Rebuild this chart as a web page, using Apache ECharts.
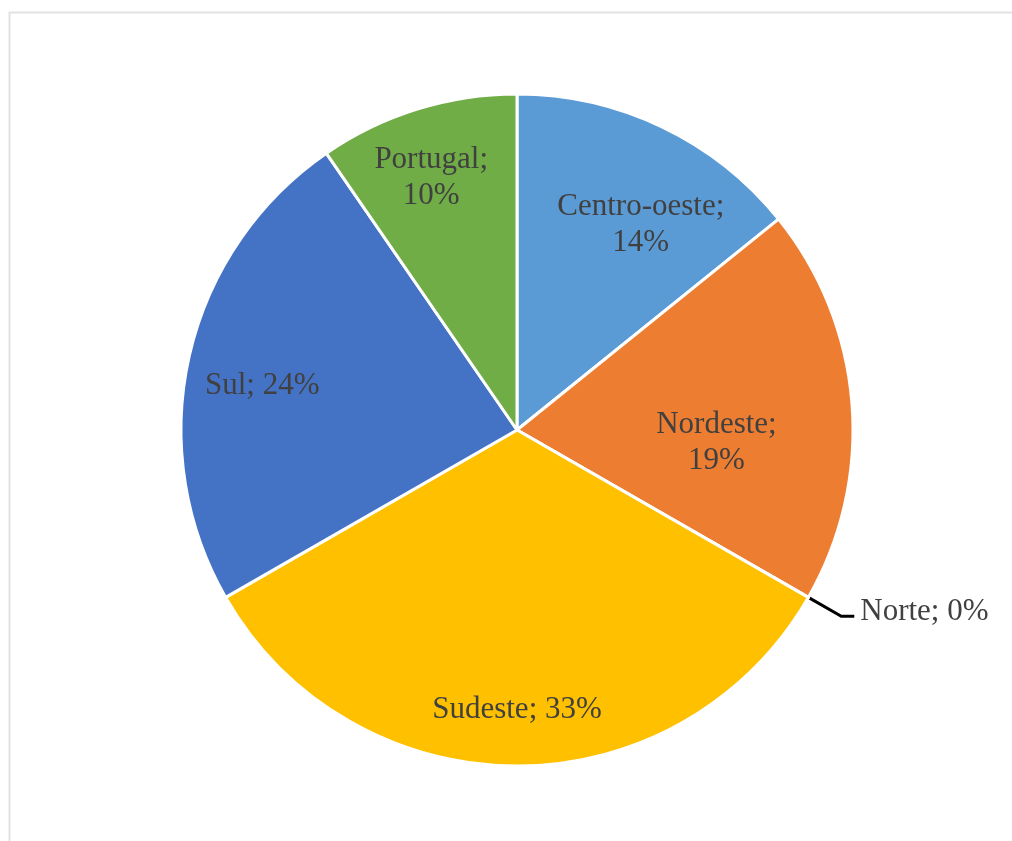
<!DOCTYPE html>
<html>
<head>
<meta charset="utf-8">
<script src="https://cdn.jsdelivr.net/npm/echarts@6/dist/echarts.min.js"></script>
<style>
    html, body { margin: 0; padding: 0; background: #ffffff; }
    #chart { width: 1012px; height: 841px; }
</style>
</head>
<body>
<div id="chart"></div>
<script>
    // regions and their share (%)
    var regions = ['Centro-oeste', 'Nordeste', 'Norte', 'Sudeste', 'Sul', 'Portugal'];
    var shares = [14.2, 19.1, 0, 33.4, 23.7, 9.6];
    var shareLabels = ['14%', '19%', '0%', '33%', '24%', '10%'];

    var colors = ['#5B9BD5', '#ED7D31', '#A5A5A5', '#FFC000', '#4472C4', '#70AD47'];
    // nudges from the default inside label spot, like Excel best fit
    var labelNudge = [[50, -51], [29, 26], [0, -4], [0, 109], [-88, -6], [-35, -89]];

    var chartDom = document.getElementById('chart');
    var myChart = echarts.init(chartDom);
    var option;

    option = {
        backgroundColor: '#ffffff',
        animation: false,
        textStyle: { fontFamily: 'Liberation Serif' },
        graphic: [
            {
                type: 'rect',
                shape: { x: 9.5, y: 12.5, width: 1100, height: 900 },
                style: { fill: 'none', stroke: '#e2e2e2', lineWidth: 2 },
                silent: true
            }
        ],
        series: [
            {
                name: 'Regiões',
                type: 'pie',
                center: [517, 430],
                radius: [0, 336],
                startAngle: 90,
                clockwise: true,
                avoidLabelOverlap: false,
                itemStyle: {
                    borderColor: '#ffffff',
                    borderWidth: 3
                },
                label: {
                    position: 'inside',
                    fontFamily: 'Liberation Serif',
                    fontSize: 31,
                    lineHeight: 36,
                    color: '#404040',
                    formatter: function (p) {
                        var i = p.dataIndex;
                        // Excel wrapped these three onto two lines
                        if (p.name === 'Centro-oeste' || p.name === 'Nordeste' || p.name === 'Portugal') {
                            return p.name + ';\n' + shareLabels[i];
                        }
                        return p.name + '; ' + shareLabels[i];
                    }
                },
                labelLayout: function (params) {
                    var n = labelNudge[params.dataIndex];
                    return { dx: n[0], dy: n[1] };
                },
                data: regions.map((name, index) => {
                    var item = {
                        name: name,
                        value: shares[index],
                        itemStyle: { color: colors[index] }
                    };
                    if (name === 'Norte') {
                        item.label = {
                            position: 'outside',
                            alignTo: 'none',
                            distanceToLabelLine: 6
                        };
                        item.labelLine = {
                            show: true,
                            length: 38,
                            length2: 13,
                            lineStyle: { color: '#000000', width: 3 }
                        };
                    }
                    return item;
                }),
                emphasis: { disabled: true }
            }
        ]
    };

    option && myChart.setOption(option);
</script>
</body>
</html>
